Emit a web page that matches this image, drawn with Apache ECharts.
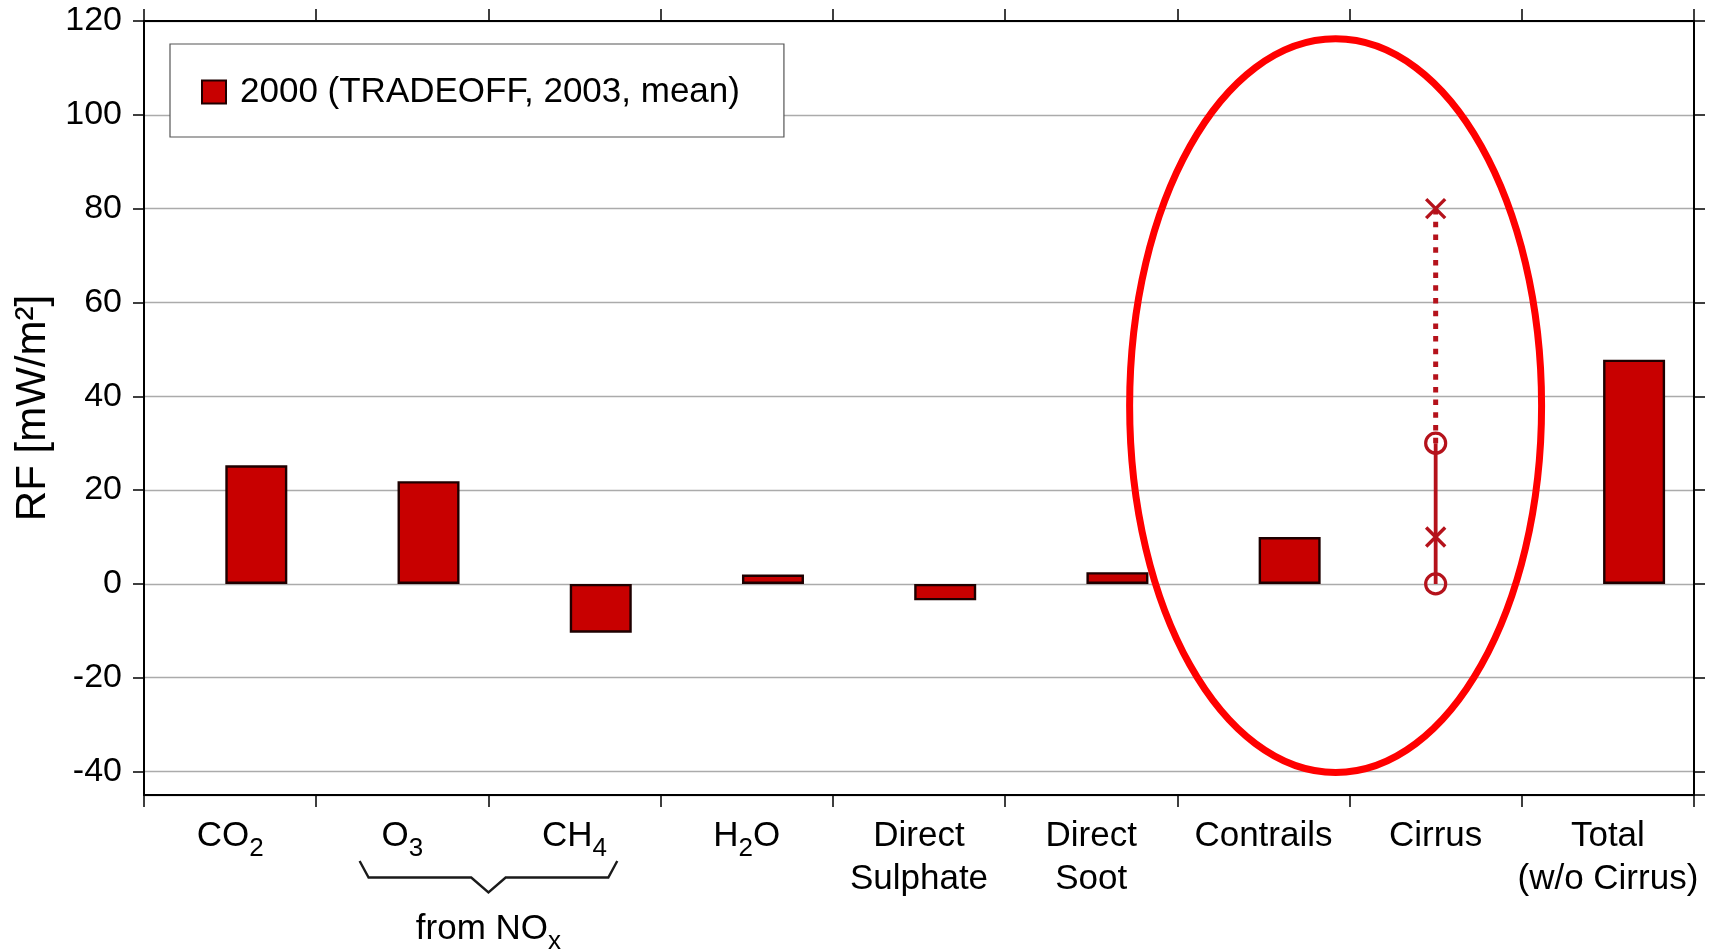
<!DOCTYPE html>
<html>
<head>
<meta charset="utf-8">
<script src="https://cdn.jsdelivr.net/npm/echarts@6/dist/echarts.min.js"></script>
<style>
  html, body { margin: 0; padding: 0; background: #ffffff; }
  #chart { width: 1715px; height: 949px; }
</style>
</head>
<body>
<div id="chart"></div>
<script>
// Aviation radiative forcing components, year 2000 (mW/m²)
const categories = ['CO2', 'O3', 'CH4', 'H2O', 'Direct Sulphate', 'Direct Soot', 'Contrails', 'Cirrus', 'Total (w/o Cirrus)'];
const categoryLabels = ['CO{sub|2}', 'O{sub|3}', 'CH{sub|4}', 'H{sub|2}O', 'Direct\nSulphate', 'Direct\nSoot', 'Contrails', 'Cirrus', 'Total\n(w/o Cirrus)'];
const rf2000 = [25.3, 21.9, -10.4, 2.0, -3.5, 2.5, 10.0, null, 47.8];

// Cirrus: range estimates only (no bar)
const cirrusSolid = [0, 30];
const cirrusDotted = [30, 80];
const cirrusCircles = [0, 30];
const cirrusCrosses = [10, 80];

const yMin = -45;
const yMax = 120;
const legendName = '2000 (TRADEOFF, 2003, mean)';

const FONT = "'Liberation Sans', Arial, Helvetica, sans-serif";
const BAR_RED = '#c80000';
const BAR_EDGE = '#1e0000';
const RANGE_RED = '#b5121b';

const chart = echarts.init(document.getElementById('chart'), null, { renderer: 'canvas' });

const subStyle = { fontSize: 26, fontFamily: FONT, color: '#000', verticalAlign: 'top', padding: [21, 0, 0, 0], lineHeight: 43 };

const option = {
  backgroundColor: '#ffffff',
  animation: false,
  textStyle: { fontFamily: FONT },
  grid: { left: 144, right: 21, top: 21, bottom: 154, containLabel: false, outerBoundsMode: 'none' },
  legend: {
    data: [{ name: legendName, icon: 'rect' }],
    left: 170,
    top: 44,
    orient: 'horizontal',
    itemWidth: 24,
    itemHeight: 23,
    padding: [26, 44, 23, 31],
    borderColor: '#555555',
    borderWidth: 1.2,
    backgroundColor: '#ffffff',
    selectedMode: false,
    textStyle: { fontSize: 35, fontFamily: FONT, color: '#000', lineHeight: 34, padding: [10, 0, 0, 9] }
  },
  xAxis: [
    {
      type: 'category',
      position: 'bottom',
      data: categories,
      axisLine: { show: true, onZero: false, lineStyle: { color: '#000', width: 2 } },
      axisTick: { show: true, inside: false, length: 12, lineStyle: { color: '#000', width: 1.5 } },
      splitLine: { show: false },
      axisLabel: {
        interval: 0,
        margin: 20,
        fontSize: 35,
        fontFamily: FONT,
        color: '#000',
        lineHeight: 43,
        align: 'center',
        formatter: (value, idx) => categoryLabels[idx],
        rich: { sub: subStyle }
      }
    },
    {
      type: 'category',
      position: 'top',
      data: categories,
      axisLine: { show: true, onZero: false, lineStyle: { color: '#000', width: 2 } },
      axisTick: { show: true, inside: false, length: 12, lineStyle: { color: '#000', width: 1.5 } },
      axisLabel: { show: false },
      splitLine: { show: false }
    }
  ],
  yAxis: [
    {
      type: 'value',
      position: 'left',
      min: yMin,
      max: yMax,
      splitNumber: 8,
      name: 'RF [mW/m²]',
      nameLocation: 'middle',
      nameGap: 90,
      nameTextStyle: { fontSize: 42, fontFamily: FONT, color: '#000' },
      axisLine: { show: true, onZero: false, lineStyle: { color: '#000', width: 2 } },
      axisTick: { show: true, inside: false, length: 11, lineStyle: { color: '#000', width: 1.5 } },
      axisLabel: { show: true, showMinLabel: false, margin: 22, fontSize: 34, fontFamily: FONT, color: '#000' },
      splitLine: { show: true, lineStyle: { color: '#ababab', width: 1.4 } }
    },
    {
      type: 'value',
      position: 'right',
      min: yMin,
      max: yMax,
      splitNumber: 8,
      axisLine: { show: true, onZero: false, lineStyle: { color: '#000', width: 2 } },
      axisTick: { show: true, inside: false, length: 11, lineStyle: { color: '#000', width: 1.5 } },
      axisLabel: { show: false },
      splitLine: { show: false }
    }
  ],
  series: [
    {
      // empty slot that holds the left half of each category
      name: 'slot',
      type: 'bar',
      barWidth: 52.4,
      barGap: '0%',
      data: [],
      silent: true
    },
    {
      name: legendName,
      type: 'bar',
      barWidth: 62,
      barGap: '0%',
      data: rf2000,
      itemStyle: { color: BAR_RED, borderColor: BAR_EDGE, borderWidth: 2.4 },
      z: 3
    },
    {
      name: 'cirrus-solid',
      type: 'line',
      data: cirrusSolid.map(v => ['Cirrus', v]),
      symbol: 'none',
      lineStyle: { color: RANGE_RED, width: 3.8, type: 'solid' },
      silent: true,
      z: 4
    },
    {
      name: 'cirrus-dotted',
      type: 'line',
      data: cirrusDotted.map(v => ['Cirrus', v]),
      symbol: 'none',
      lineStyle: { color: RANGE_RED, width: 5, type: [5.5, 7.2], cap: 'butt' },
      silent: true,
      z: 4
    },
    {
      name: 'cirrus-circles',
      type: 'scatter',
      data: cirrusCircles.map(v => ['Cirrus', v]),
      symbol: 'circle',
      symbolSize: 20,
      itemStyle: { color: 'rgba(0,0,0,0)', borderColor: RANGE_RED, borderWidth: 3.2, opacity: 1 },
      silent: true,
      z: 5
    },
    {
      name: 'cirrus-crosses',
      type: 'scatter',
      data: cirrusCrosses.map(v => ['Cirrus', v]),
      symbol: 'path://M0,0L10,10M10,0L0,10',
      symbolSize: 19,
      itemStyle: { color: 'rgba(0,0,0,0)', borderColor: RANGE_RED, borderWidth: 3.4, opacity: 1 },
      silent: true,
      z: 5
    },
    {
      // red ring drawn around the contrail / cirrus columns
      name: 'ring',
      type: 'custom',
      silent: true,
      z: 10,
      data: [[6, 38.0]],
      renderItem: function (params, api) {
        const c = api.coord([api.value(0), api.value(1)]);
        const band = api.size([1, 0])[0];
        const unitY = api.size([0, 1])[1];
        return {
          type: 'ellipse',
          shape: { cx: c[0] + 0.419 * band, cy: c[1], rx: 1.196 * band, ry: 78.2 * unitY },
          style: { fill: 'none', stroke: '#ff0000', lineWidth: 7 }
        };
      }
    },
    {
      // brace grouping the two NOx-driven terms
      name: 'nox-brace',
      type: 'custom',
      silent: true,
      z: 10,
      data: [[1, yMin]],
      renderItem: function (params, api) {
        const a = api.coord([1, yMin]);
        const b = api.coord([2, yMin]);
        const band = b[0] - a[0];
        const mid = (a[0] + b[0]) / 2;
        const y0 = a[1];
        return {
          type: 'group',
          children: [
            {
              type: 'polyline',
              shape: {
                points: [
                  [mid - 0.748 * band, y0 + 66],
                  [mid - 0.696 * band, y0 + 82.5],
                  [mid - 0.1 * band, y0 + 82.5],
                  [mid, y0 + 97.5],
                  [mid + 0.1 * band, y0 + 82.5],
                  [mid + 0.696 * band, y0 + 82.5],
                  [mid + 0.748 * band, y0 + 66]
                ]
              },
              style: { fill: 'none', stroke: '#1a1a1a', lineWidth: 2.4 }
            },
            {
              type: 'text',
              x: mid,
              y: y0 + 113,
              style: {
                text: 'from NO{sub|x}',
                fontSize: 35,
                fontFamily: FONT,
                fill: '#000',
                lineHeight: 43,
                align: 'center',
                verticalAlign: 'top',
                rich: {
                  sub: { fontSize: 26, fontFamily: FONT, fill: '#000', verticalAlign: 'top', padding: [21, 0, 0, 0], lineHeight: 43 }
                }
              }
            }
          ]
        };
      }
    }
  ]
};

chart.setOption(option);
</script>
</body>
</html>
